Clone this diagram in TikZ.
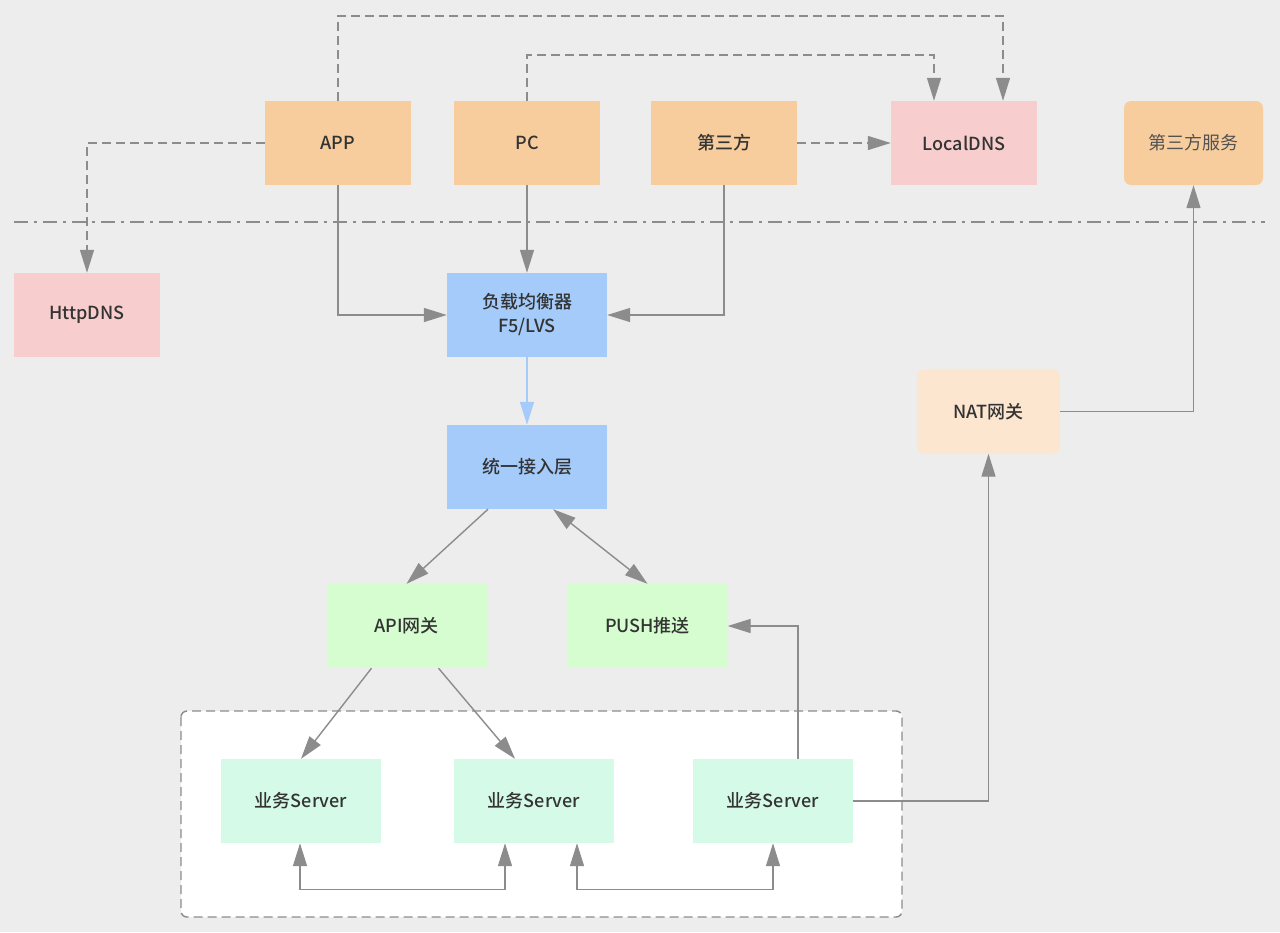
\documentclass[tikz,border=0pt]{standalone}
\usepackage{fontspec}
\setmainfont{Noto Sans CJK SC Medium}
\newfontfamily\lightfont{Noto Sans CJK SC}
\usetikzlibrary{arrows.meta,positioning,calc}
\definecolor{mybg}{HTML}{EDEDED}
\definecolor{mygray}{HTML}{8C8C8C}
\definecolor{mytext}{HTML}{333333}
\definecolor{myorange}{HTML}{F8CD9E}
\definecolor{mypink}{HTML}{F8CDCD}
\definecolor{myblue}{HTML}{A4CBF9}
\definecolor{mygreen}{HTML}{D6FDD0}
\definecolor{mymint}{HTML}{D5FAE8}
\definecolor{mypeach}{HTML}{FCE6CF}
\tikzset{
	box/.style={
		rectangle, draw=none, text=mytext,
		minimum width=146pt, minimum height=84pt,
		inner sep=0pt, align=center, font=\fontsize{18}{24}\selectfont,
	},
	wbox/.style={box, minimum width=160pt},
	tip/.tip={Triangle[length=23pt,width=14pt]},
	line/.style={
		draw=mygray, line width=1.4pt, -tip,
	},
	dline/.style={line, dash pattern=on 9pt off 5pt},
	bline/.style={line, tip-tip},
}
\begin{document}
\begin{tikzpicture}[x=1pt, y=-1pt]
	\useasboundingbox[fill=mybg] (0,0) rectangle (1280,932);
	% Server group
	\draw[draw=mygray, fill=white, line width=1.4pt, dash pattern=on 9pt off 5pt, rounded corners=6pt]
	(181,711) rectangle (902,917);
	% Separator
	\draw[draw=mygray, line width=1.4pt, dash pattern=on 14pt off 6pt on 3pt off 6pt] (14,222) -- (1265,222);
	% Clients
	\node [box, fill=myorange] (app) at (338,143) {APP};
	\node [box, fill=myorange] (pc) at (527,143) {PC};
	\node [box, fill=myorange] (third) at (724,143) {第三方};
	\node [box, fill=mypink] (localdns) at (964,143) {LocalDNS};
	\node [box, fill=myorange, minimum width=139pt, rounded corners=7pt, text=mytext!85,
	font=\lightfont\fontsize{18}{24}\selectfont] (service) at (1193.5,143) {第三方服务};
	\node [box, fill=mypink] (httpdns) at (87,315) {HttpDNS};
	% Access
	\node [wbox, fill=myblue] (lb) at (527,315) {负载均衡器\\F5/LVS};
	\node [wbox, fill=myblue] (access) at (527,467) {统一接入层};
	\node [box, fill=mypeach, minimum width=143pt, rounded corners=7pt] (nat) at (988.5,411.5) {NAT网关};
	\node [wbox, fill=mygreen] (api) at (406.5,626) {API网关};
	\node [wbox, fill=mygreen] (push) at (647.5,626) {PUSH推送};
	% Servers
	\node [wbox, fill=mymint] (s1) at (301,801) {业务Server};
	\node [wbox, fill=mymint] (s2) at (534,801) {业务Server};
	\node [wbox, fill=mymint] (s3) at (773,801) {业务Server};
	% DNS (dashed)
	\draw[dline] (app.north) -- ++(0,-85) -| ([xshift=39pt]localdns.north);
	\draw[dline] (pc.north) -- ++(0,-46) -| ([xshift=-30pt]localdns.north);
	\draw[dline] (third) -- (localdns);
	\draw[dline] (app.west) -| (httpdns.north);
	% Requests
	\draw[line] (app.south) |- (lb.west);
	\draw[line] (pc) -- (lb);
	\draw[line] (third.south) |- (lb.east);
	\draw[line, draw=myblue, -{Triangle[length=23pt,width=14pt,fill=myblue]}] (lb) -- (access);
	\draw[line] ([xshift=-39pt]access.south) -- (api.north);
	\draw[bline] ([xshift=26pt]access.south) -- (push.north);
	\draw[line] ([xshift=-35pt]api.south) -- (s1.north);
	\draw[line] ([xshift=32pt]api.south) -- ([xshift=-19pt]s2.north);
	\draw[line] ([xshift=25pt]s3.north) |- (push.east);
	\draw[line] (s3.east) -| (nat.south);
	\draw[line] (nat.east) -| (service.south);
	% Server to server
	\draw[bline] ([xshift=-1pt]s1.south) -- ++(0,46) -| ([xshift=-29pt]s2.south);
	\draw[bline] ([xshift=43pt]s2.south) -- ++(0,46) -| (s3.south);
\end{tikzpicture}
\end{document}
